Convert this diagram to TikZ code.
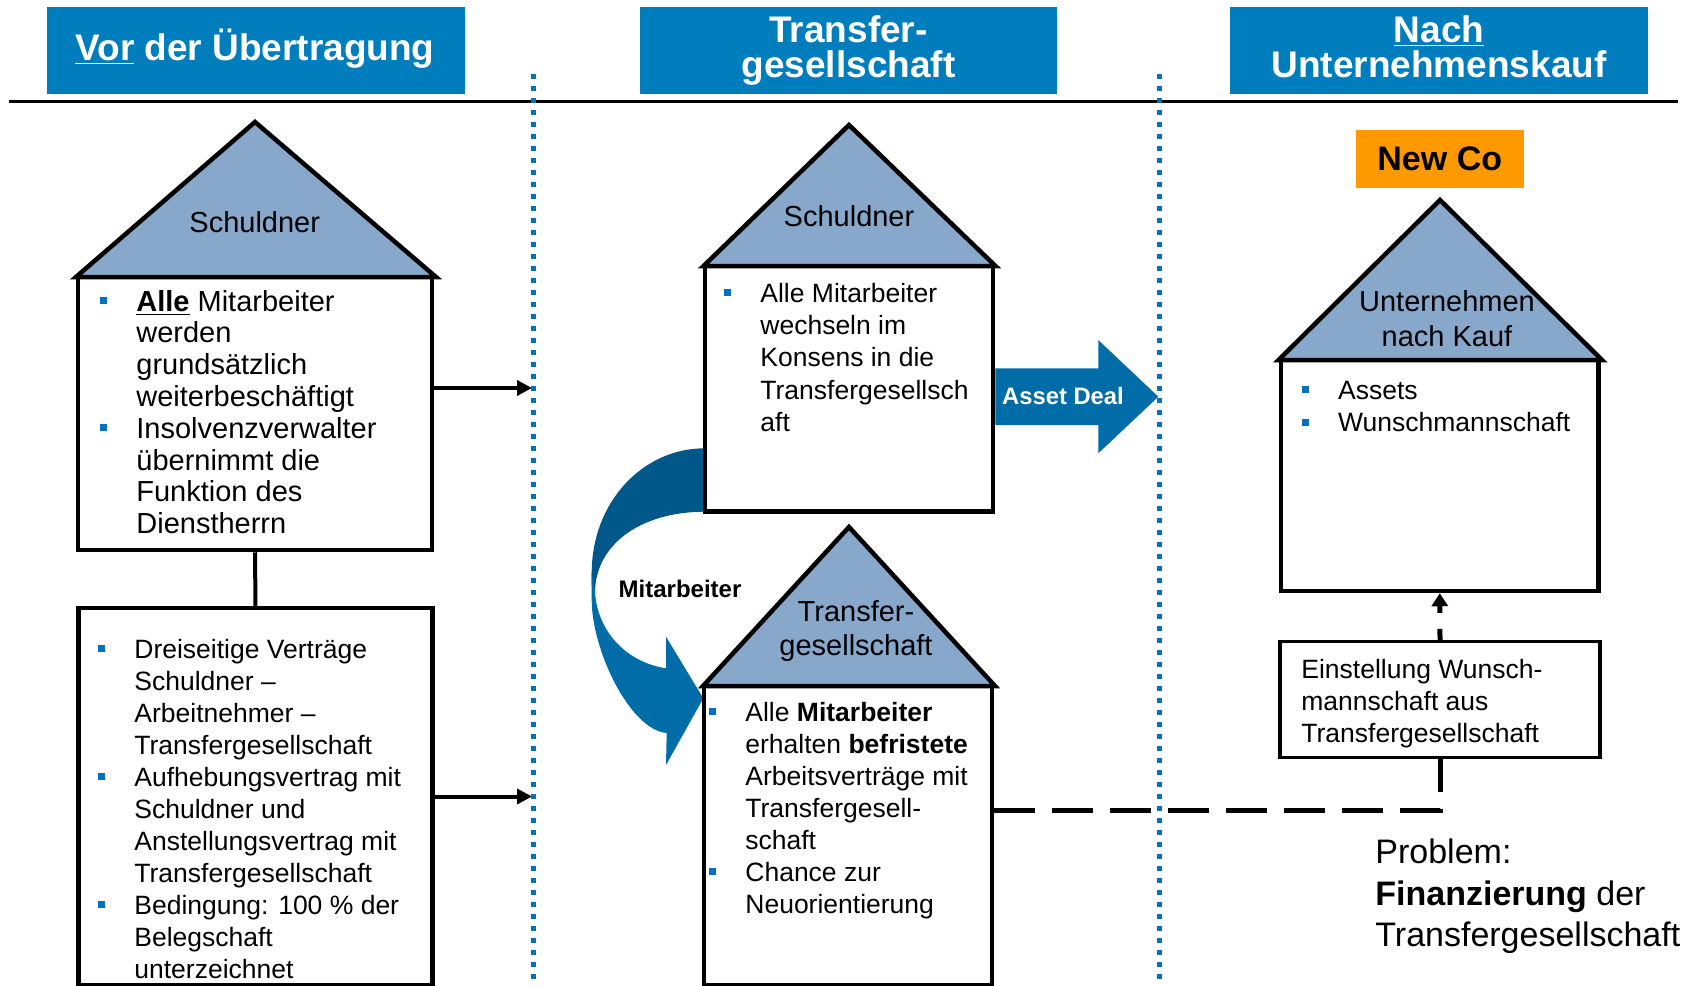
\documentclass[tikz,border=0pt]{standalone}
\usepackage{fontspec}
\setmainfont{Liberation Sans}
\usetikzlibrary{arrows.meta}
\definecolor{hdr}{RGB}{0,125,188}
\definecolor{roofc}{RGB}{135,168,203}
\definecolor{dotc}{RGB}{0,114,186}
\definecolor{bul}{RGB}{0,114,186}
\definecolor{arrc}{RGB}{0,108,168}
\definecolor{darkc}{RGB}{0,88,138}
\definecolor{orangec}{RGB}{255,153,0}
\newcommand{\bsq}{\textcolor{bul}{\rule[.24em]{3.5pt}{3.5pt}}}
\newcommand{\bit}{\par\noindent\llap{\bsq\hspace{14.5pt}}}
\begin{document}
\begin{tikzpicture}[x=0.5pt,y=-0.5pt,
  hbox/.style={fill=hdr, inner sep=0, minimum width=209pt, minimum height=43.5pt},
  house/.style={draw, line width=2.25pt, fill=white, inner sep=0},
  roof/.style={draw, line width=2.25pt, fill=roofc, line join=miter},
  txt/.style={inner sep=0, anchor=base west},
  ctxt/.style={inner sep=0, anchor=base},
  conn/.style={line width=2pt},
  arr/.style={line width=2pt, -{Triangle[length=7.5pt,width=7.5pt]}},
  dashc/.style={line width=2.5pt, dash pattern=on 20.5pt off 8.5pt},
  uparr/.style={line width=2.5pt, dash pattern=on 5.5pt off 8pt on 30pt off 0pt, -{Triangle[length=6.5pt,width=8pt]}},
  dotl/.style={draw=dotc, line width=2.5pt, dash pattern=on 2.6pt off 3.4pt}]
\useasboundingbox (0,0) rectangle (1695,985);

% header boxes
\node[hbox] (hA) at (256,50.5) {};
\node[hbox, minimum width=208.5pt] (hB) at (848.5,50.5) {};
\node[hbox] (hC) at (1439,50.5) {};
\node[ctxt, text=white] (hAt) at (255,60) {\parbox[t]{205pt}{\centering\fontsize{18.5}{17.5}\selectfont\bfseries \underline{Vor} der Übertragung}};
\node[ctxt, text=white] (hBt) at (848.5,42) {\parbox[t]{205pt}{\centering\fontsize{18.5}{17.5}\selectfont\bfseries Transfer-\\gesellschaft}};
\node[ctxt, text=white] (hCt) at (1439,42) {\parbox[t]{205pt}{\centering\fontsize{18.5}{17.5}\selectfont\bfseries \underline{Nach}\\Unternehmenskauf}};

% top rule
\draw[line width=1.65pt] (9,101.7) -- (1678,101.7);

% curved Mitarbeiter arrow
\fill[darkc] (705,448.3) .. controls (643,448) and (591.7,502) .. (591.7,573)
  -- (591.7,585) -- (595,593) .. controls (595,545) and (640,511.7) .. (705,511.7) -- cycle;
\fill[arrc] (591.7,573) -- (591.7,600) .. controls (591.7,650) and (630,730) .. (666.7,733)
  -- (666,765) -- (703.3,698.3) -- (666,636.7) -- (666,668.3)
  .. controls (625,662) and (597,630) .. (595,591.7) -- cycle;

% left column
\node[house, minimum width=177pt, minimum height=136.5pt] (L1) at (255,413.5) {};
\draw[roof] (76,277) -- (255,122) -- (436,277) -- cycle;
\node[house, minimum width=177pt, minimum height=188.5pt] (L2) at (255.5,796.5) {};
\draw[conn] (L1.south) -- (L2.north);
\node[ctxt] (L1r) at (254.7,232.3) {\fontsize{14.5}{16}\selectfont Schuldner};
\node[txt] (L1t) at (136,311) {\parbox[t]{160pt}{\fontsize{14.5}{15.9}\selectfont\raggedright
\bit\underline{\textbf{Alle}} Mitarbeiter\\werden\\grundsätzlich\\weiterbeschäftigt
\bit Insolvenzverwalter\\übernimmt die\\Funktion des\\Dienstherrn}};
\node[txt] (L2t) at (134,658) {\parbox[t]{160pt}{\fontsize{13.25}{16}\selectfont\raggedright
\bit Dreiseitige Verträge\\Schuldner –\\Arbeitnehmer –\\Transfergesellschaft
\bit Aufhebungsvertrag mit\\Schuldner und\\Anstellungsvertrag mit\\Transfergesellschaft
\bit Bedingung: 100 \% der\\Belegschaft\\unterzeichnet}};
\coordinate (d1) at (532,388);
\coordinate (d2) at (532,796.5);
\draw[arr] (L1.east |- d1) -- (d1);
\draw[arr] (L2.east) -- (d2);

% middle column
\node[house, minimum width=144pt, minimum height=122.75pt] (M1) at (849,388.75) {};
\draw[roof] (703.5,266) -- (849,125) -- (995.5,266) -- cycle;
\node[house, minimum width=144pt, minimum height=149.5pt] (M2) at (848,835.5) {};
\draw[roof] (703,686) -- (849,527) -- (995,686) -- cycle;
\node[ctxt] (M1r) at (849,226) {\fontsize{14.5}{16}\selectfont Schuldner};
\node[ctxt] (M2r) at (856,621.5) {\parbox[t]{120pt}{\centering\fontsize{14.5}{17}\selectfont Transfer-\\gesellschaft}};
\node[txt] (M1t) at (760,302.5) {\parbox[t]{120pt}{\fontsize{13.25}{16.1}\selectfont\raggedright
\bit Alle Mitarbeiter\\wechseln im\\Konsens in die\\Transfergesellsch\\aft}};
\node[txt] (M2t) at (745,721) {\parbox[t]{120pt}{\fontsize{13.25}{16.05}\selectfont\raggedright
\bit Alle \textbf{Mitarbeiter}\\erhalten \textbf{befristete}\\Arbeitsverträge mit\\Transfergesell-\\schaft
\bit Chance zur\\Neuorientierung}};
\node[txt] (ml) at (618.3,597.5) {\fontsize{12}{14}\selectfont\bfseries Mitarbeiter};

% asset deal arrow
\fill[arrc] (M1.east |- 0,368.3) -- (1098.3,368.3) -- (1098.3,340) -- (1158.3,396.7)
  -- (1098.3,453.3) -- (1098.3,425) -- (M1.east |- 0,425) -- cycle;
\node[txt, text=white] (ad) at (1001.7,404.5) {\fontsize{11.9}{14}\selectfont\bfseries Asset Deal};

% right column
\node[fill=orangec, minimum width=83.75pt, minimum height=28.85pt, inner sep=0,
  font=\fontsize{17}{20}\selectfont\bfseries] (newco) at (1439.75,158.85) {New Co};
\node[house, minimum width=158.75pt, minimum height=115.5pt] (R1) at (1439.75,475.5) {};
\draw[roof] (1278.5,360) -- (1440,200) -- (1602,360) -- cycle;
\node[ctxt] (R1r) at (1447,311) {\parbox[t]{120pt}{\centering\fontsize{14.5}{17.5}\selectfont Unternehmen\\nach Kauf}};
\node[txt] (R1t) at (1337.7,399.5) {\parbox[t]{130pt}{\fontsize{13.25}{16.2}\selectfont\raggedright
\bit Assets
\bit Wunschmannschaft}};
\node[draw, line width=1.75pt, fill=white, inner sep=0, minimum width=160pt, minimum height=57.8pt] (E) at (1440,699.5) {};
\node[txt] (Et) at (1301,678.7) {\parbox[t]{150pt}{\fontsize{13.25}{16}\selectfont\raggedright
Einstellung Wunsch-\\mannschaft aus\\Transfergesellschaft}};
\draw[uparr] (E.north) -- (R1.south);
\coordinate (c) at (1440,810);
\draw[dashc] (M2.east |- c) -- (c) -- (E.south);
\node[txt] (prob) at (1375,863.7) {\parbox[t]{170pt}{\fontsize{17}{20.8}\selectfont\raggedright
Problem:\\\textbf{Finanzierung} der\\Transfergesellschaft}};

% dotted separators
\draw[dotl] (533,74) -- (533,985);
\draw[dotl] (1159,74) -- (1159,985);
\end{tikzpicture}
\end{document}
